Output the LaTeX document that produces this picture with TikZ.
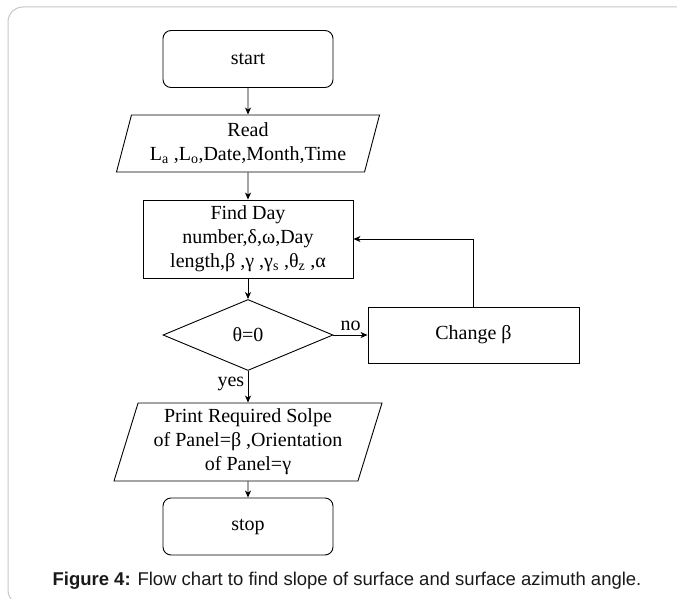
\documentclass[tikz,border=0pt]{standalone}
\usepackage{fontspec}
\setmainfont{Liberation Serif}
\newfontfamily\capfont{Liberation Sans}
\usetikzlibrary{shapes.geometric, arrows.meta}

\begin{document}
\begin{tikzpicture}[x=1pt,y=-1pt, >={Stealth[length=7pt,width=6pt,inset=2pt]}, line width=0.9pt,
  font=\fontsize{20}{24}\selectfont,
  term/.style={rectangle, rounded corners=8pt, draw, minimum width=170pt, minimum height=57pt},
  io/.style={trapezium, trapezium left angle=70, trapezium right angle=110, trapezium stretches body=true, draw, align=center, inner sep=0pt},
  proc/.style={rectangle, draw, align=center, inner sep=0pt},
  test/.style={diamond, draw, inner sep=0pt, aspect=2.4, minimum width=170pt, minimum height=71pt}]
\useasboundingbox (0,0) rectangle (677,599);
\draw[black!22, line width=1pt, rounded corners=15pt] (8,7) rectangle (705,605);
\node (1) at (248,59) [term] {start};
\node (2) at (248,143.5) [io, minimum width=263pt, minimum height=57pt] {Read\\L\textsubscript{a} ,L\textsubscript{o},Date,Month,Time};
\node (3) at (248,239) [proc, minimum width=210pt, minimum height=78pt] {Find Day\\number,δ,ω,Day\\length,β ,γ ,γ\textsubscript{s} ,θ\textsubscript{z} ,α};
\node (4) at (248,335) [test] {θ=0};
\node (5) at (473.5,335) [proc, minimum width=211pt, minimum height=56pt] {Change β};
\node (6) at (248,442) [io, minimum width=268pt, minimum height=78pt] {Print Required Solpe\\of Panel=β ,Orientation\\of Panel=γ};
\node (7) at (248,526.5) [term] {stop};
\draw[->] (1) -- (2);
\draw[->] (2) -- (3);
\draw[->] (3) -- (4);
\draw[->] (4) -- node[above, inner sep=4pt] {no} (5);
\draw[->] (5) |- (3);
\draw[->] (4) -- node[left, pos=0.4] {yes} (6);
\draw[->] (6) -- (7);
\node (cap) at (347,585) [anchor=base, font=\capfont\fontsize{18.5}{22}\selectfont, text=black!90] {\textbf{Figure 4:} Flow chart to find slope of surface and surface azimuth angle.};
\end{tikzpicture}
\end{document}
